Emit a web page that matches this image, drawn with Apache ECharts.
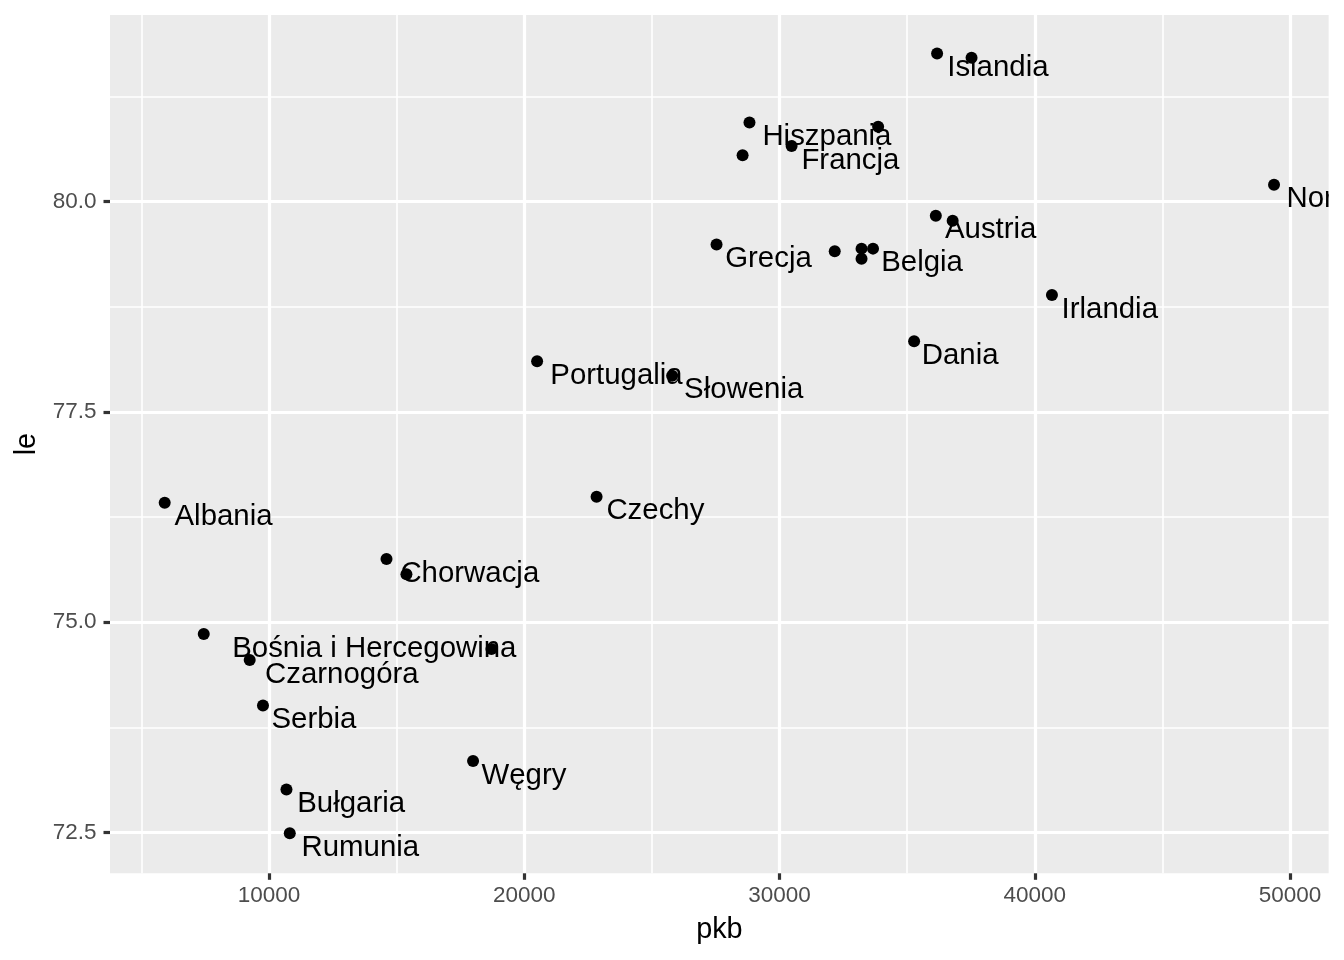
<!DOCTYPE html>
<html>
<head>
<meta charset="utf-8">
<script src="https://cdn.jsdelivr.net/npm/echarts@6/dist/echarts.min.js"></script>
<style>html,body{margin:0;padding:0;background:#fff}#c{width:1344px;height:960px}</style>
</head>
<body>
<div id="c"></div>
<script>
// ---- data ----
const pkb = [36170, 37520, 28820, 33860, 30470, 28550, 49370, 36120, 36780, 27530,
             32160, 33210, 33660, 33210, 40670, 35270, 20500, 25790, 22830, 5910,
             14600, 15380, 7440, 9240, 18710, 9760, 17990, 10680, 10810];
const le  = [81.76, 81.71, 80.94, 80.89, 80.66, 80.55, 80.20, 79.83, 79.77, 79.49,
             79.41, 79.44, 79.44, 79.32, 78.89, 78.34, 78.10, 77.93, 76.49, 76.42,
             75.75, 75.57, 74.86, 74.55, 74.68, 74.01, 73.35, 73.01, 72.49];
const countries = ['Islandia', null, 'Hiszpania', null, 'Francja', null, 'Norwegia', 'Austria', null, 'Grecja',
                   null, null, 'Belgia', null, 'Irlandia', 'Dania', 'Portugalia', 'Słowenia', 'Czechy', 'Albania',
                   'Chorwacja', null, 'Bośnia i Hercegowina', 'Czarnogóra', null, 'Serbia', 'Węgry', 'Bułgaria', 'Rumunia'];
const xMajorTicks = [10000, 20000, 30000, 40000, 50000];
const xMinorTicks = [5000, 15000, 25000, 35000, 45000];
const yMajorTicks = [72.5, 75, 77.5, 80];
const yMinorTicks = [73.75, 76.25, 78.75, 81.25];

// ---- styling ----
const FONT = '"Liberation Sans", Arial, Helvetica, sans-serif';
const LABEL_SIZE = 29.4;
const TICK_SIZE = 22.5;
const TITLE_SIZE = 28.8;
const X_MIN = 3767, X_MAX = 51516, Y_MIN = 72.015, Y_MAX = 82.217;

const ctx = document.createElement('canvas').getContext('2d');
ctx.font = LABEL_SIZE + 'px ' + FONT;
const textWidth = s => ctx.measureText(s).width;

// hjust = -0.1 : label shifted right by 10% of its own width
const data = pkb.map((x, i) => {
  const name = countries[i];
  const item = { value: [x, le[i]], name: name || '' };
  if (name) item.label = { show: true, offset: [0.1 * textWidth(name), 14.5] };
  return item;
});

const gridLineMajor = { show: true, lineStyle: { color: '#FFFFFF', width: 3.2 } };
const gridLineMinor = { show: true, lineStyle: { color: '#FFFFFF', width: 1.6 } };
const tickStyle = { color: '#333333', width: 3.2 };

const chart = echarts.init(document.getElementById('c'), null, { renderer: 'canvas' });
chart.setOption({
  animation: false,
  backgroundColor: '#FFFFFF',
  grid: {
    left: 110, right: 15.2, top: 15, bottom: 86.7,
    show: true, backgroundColor: '#EBEBEB', borderWidth: 0,
    outerBoundsMode: 'none'
  },
  xAxis: [
    {
      type: 'value', min: X_MIN, max: X_MAX,
      axisLine: { show: false },
      axisTick: { show: true, length: 6.5, customValues: xMajorTicks, lineStyle: tickStyle },
      axisLabel: { customValues: xMajorTicks, formatter: v => String(Math.round(v)), margin: 11,
                   fontSize: TICK_SIZE, color: '#4D4D4D', fontFamily: FONT },
      splitLine: gridLineMajor,
      name: 'pkb', nameLocation: 'middle', nameGap: 42.6,
      nameTextStyle: { fontSize: TITLE_SIZE, color: '#000000', fontFamily: FONT }
    },
    {
      type: 'value', min: X_MIN, max: X_MAX, position: 'bottom',
      axisLine: { show: false },
      axisTick: { show: false, customValues: xMinorTicks },
      axisLabel: { show: false, customValues: xMinorTicks },
      splitLine: gridLineMinor
    }
  ],
  yAxis: [
    {
      type: 'value', min: Y_MIN, max: Y_MAX,
      axisLine: { show: false },
      axisTick: { show: true, length: 6.5, customValues: yMajorTicks, lineStyle: tickStyle },
      axisLabel: { customValues: yMajorTicks, formatter: v => Number(v).toFixed(1), margin: 13.5,
                   fontSize: TICK_SIZE, color: '#4D4D4D', fontFamily: FONT },
      splitLine: gridLineMajor,
      name: 'le', nameLocation: 'middle', nameRotate: 90, nameGap: 65.6,
      nameTextStyle: { fontSize: TITLE_SIZE, color: '#000000', fontFamily: FONT }
    },
    {
      type: 'value', min: Y_MIN, max: Y_MAX, position: 'left',
      axisLine: { show: false },
      axisTick: { show: false, customValues: yMinorTicks },
      axisLabel: { show: false, customValues: yMinorTicks },
      splitLine: gridLineMinor
    }
  ],
  series: [{
    type: 'scatter',
    xAxisIndex: 0, yAxisIndex: 0,
    symbol: 'circle', symbolSize: 12,
    itemStyle: { color: '#000000', opacity: 1 },
    label: {
      show: false, position: 'inside', align: 'left', verticalAlign: 'middle',
      formatter: '{b}', color: '#000000', fontSize: LABEL_SIZE, fontFamily: FONT,
      textBorderWidth: 0
    },
    emphasis: { disabled: true },
    data: data
  }],
  graphic: [{
    type: 'rect', silent: true, z: 100,
    shape: { x: 1328.8, y: 0, width: 30, height: 960 },
    style: { fill: '#FFFFFF' }
  }]
});
</script>
</body>
</html>
